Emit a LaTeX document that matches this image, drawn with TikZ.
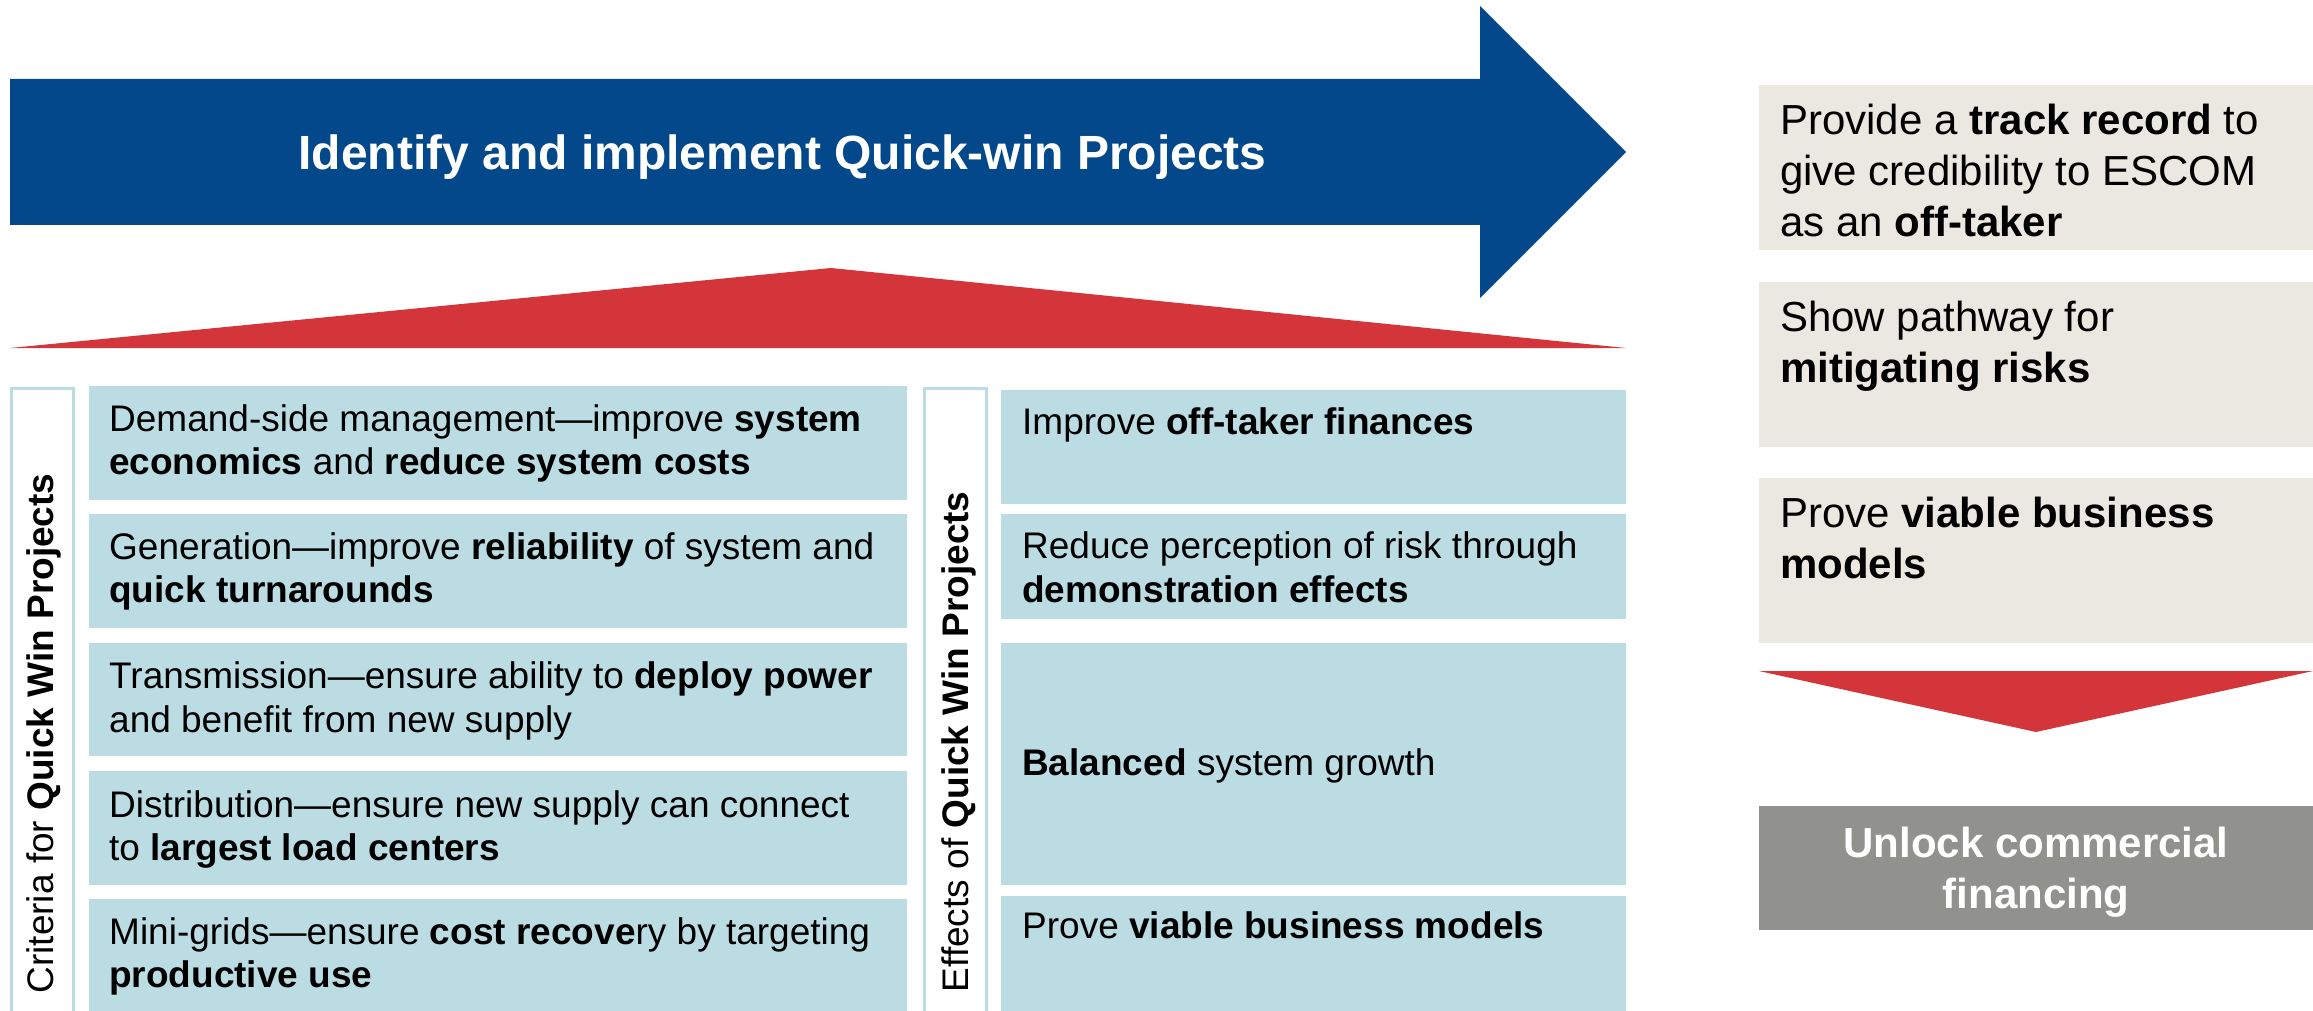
\documentclass[tikz,border=0pt]{standalone}
\usepackage{fontspec}
\setmainfont{Liberation Sans}
\definecolor{blueA}{RGB}{2,72,138}
\definecolor{redA}{RGB}{211,53,59}
\definecolor{lblue}{RGB}{187,220,226}
\definecolor{beige}{RGB}{235,231,225}
\definecolor{greyA}{RGB}{145,146,142}
\begin{document}
\begin{tikzpicture}[x=1pt,y=-1pt,
  box/.style={anchor=north west, inner sep=0, outer sep=0, draw=none, fill=lblue},
  bbox/.style={anchor=north west, inner sep=0, outer sep=0, draw=none, fill=beige},
  lblbox/.style={anchor=north west, inner sep=0, outer sep=0, draw=lblue, line width=3pt, fill=white},
  txt/.style={anchor=base west, inner sep=0, align=left, font={\fontsize{37}{43.5}\selectfont}},
  rtxt/.style={anchor=base west, inner sep=0, align=left, font={\fontsize{42}{51}\selectfont}},
  vlab/.style={rotate=90, anchor=base, inner sep=0, font={\fontsize{37}{43.5}\selectfont}}
]
\useasboundingbox (0,0) rectangle (2313,1011);

% Blue arrow
\path[fill=blueA] (10,79) -- (1480,79) -- (1480,6) -- (1626,152) -- (1480,298) -- (1480,225) -- (10,225) -- cycle;
\node[anchor=base, inner sep=0, text=white, font={\fontsize{48}{56}\selectfont\bfseries}] (title) at (782.5,170) {Identify and implement Quick-win Projects};

% Red up triangle
\path[fill=redA] (10,348) -- (831,268) -- (1626,348) -- cycle;

% Left label box
\node[lblbox, minimum width=62pt, minimum height=660pt] (Lab) at (11.5,388.5) {};
\node[vlab] (Labt) at (53.5,733.5) {Criteria for \textbf{Quick Win Projects}};

% Left boxes (base = last line baseline)
\node[box, minimum width=818pt, minimum height=114pt] (L1) at (89,386) {};
\node[box, minimum width=818pt, minimum height=114pt] (L2) at (89,514) {};
\node[box, minimum width=818pt, minimum height=113pt] (L3) at (89,643) {};
\node[box, minimum width=818pt, minimum height=114pt] (L4) at (89,771) {};
\node[box, minimum width=818pt, minimum height=130pt] (L5) at (89,899) {};
\node[txt] (L1t) at (109,474.9) {Demand-side management—improve \textbf{system}\\\textbf{economics} and \textbf{reduce system costs}};
\node[txt] (L2t) at (109,602.5) {Generation—improve \textbf{reliability} of system and\\\textbf{quick turnarounds}};
\node[txt] (L3t) at (109,732) {Transmission—ensure ability to \textbf{deploy power}\\and benefit from new supply};
\node[txt] (L4t) at (109,860.5) {Distribution—ensure new supply can connect\\to \textbf{largest load centers}};
\node[txt] (L5t) at (109,987.5) {Mini-grids—ensure \textbf{cost recove}ry by targeting\\\textbf{productive use}};

% Middle label box
\node[lblbox, minimum width=62pt, minimum height=660pt] (Mab) at (924.5,388.5) {};
\node[vlab] (Mabt) at (968.5,741.8) {Effects of \textbf{Quick Win Projects}};

% Middle boxes
\node[box, minimum width=625pt, minimum height=114pt] (M1) at (1001,390) {};
\node[box, minimum width=625pt, minimum height=105pt] (M2) at (1001,514) {};
\node[box, minimum width=625pt, minimum height=242pt] (M3) at (1001,643) {};
\node[box, minimum width=625pt, minimum height=130pt] (M4) at (1001,896) {};
\node[txt] (M1t) at (1022,434.7) {Improve \textbf{off-taker finances}};
\node[txt] (M2t) at (1022,602) {Reduce perception of risk through\\\textbf{demonstration effects}};
\node[txt] (M3t) at (1022,775) {\textbf{Balanced} system growth};
\node[txt] (M4t) at (1022,938.8) {Prove \textbf{viable business models}};

% Right beige boxes
\node[bbox, minimum width=560pt, minimum height=165pt] (R1) at (1759,85) {};
\node[bbox, minimum width=560pt, minimum height=164.5pt] (R2) at (1759,282) {};
\node[bbox, minimum width=560pt, minimum height=164.5pt] (R3) at (1759,478) {};
\node[rtxt] (R1t) at (1780,236.7) {Provide a \textbf{track record} to\\give credibility to ESCOM\\as an \textbf{off-taker}};
\node[rtxt] (R2t) at (1780,382) {Show pathway for\\\textbf{mitigating risks}};
\node[rtxt] (R3t) at (1780,578.6) {Prove \textbf{viable business}\\\textbf{models}};

% Red down triangle
\path[fill=redA] (1759,671) -- (2313,671) -- (2036,732) -- cycle;

% Grey box
\node[anchor=north west, inner sep=0, fill=greyA, minimum width=560pt, minimum height=124pt] (G) at (1759,806) {};
\node[anchor=base, inner sep=0, align=center, text=white, font={\fontsize{42}{51}\selectfont\bfseries}] (Gt) at (2036,908) {Unlock commercial\\financing};
\end{tikzpicture}
\end{document}
